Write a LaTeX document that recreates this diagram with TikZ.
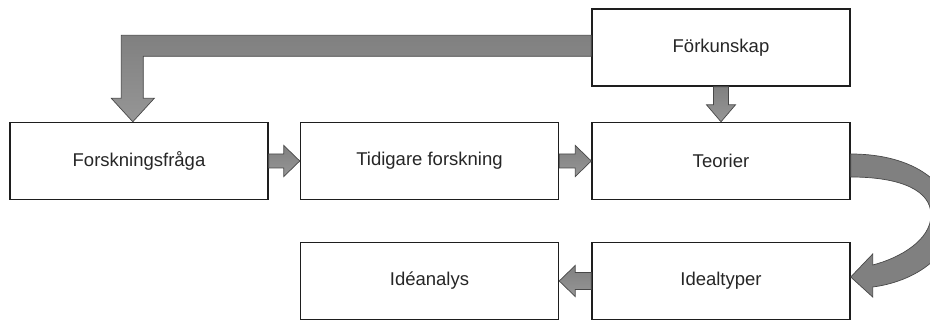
\documentclass[tikz,border=0pt]{standalone}
\usepackage{fontspec}
\setmainfont{Liberation Sans}
\usetikzlibrary{calc}
\definecolor{arrowgray}{RGB}{128,128,128}
\definecolor{arrowlight}{RGB}{150,150,150}
\definecolor{edgegray}{RGB}{72,72,72}
\definecolor{boxline}{RGB}{30,30,30}
\definecolor{txt}{RGB}{38,38,38}
\tikzset{
  box/.style={draw=boxline, line width=1.4pt, fill=white, minimum width=258pt,
    minimum height=77pt, inner sep=0pt, text=txt, font=\fontsize{18.5}{22}\selectfont},
  blockarrow/.style={draw=edgegray, line width=0.7pt, line join=miter,
    top color=arrowgray, bottom color=arrowlight},
  flatarrow/.style={draw=edgegray, line width=0.7pt, line join=miter, fill=arrowgray},
}
\newcommand{\blockright}[2]{%
  \path[blockarrow] ($(#1)+(0,7)$) -- ($(#2)+(-16,7)$) -- ($(#2)+(-16,15.5)$) -- (#2)
    -- ($(#2)+(-16,-15.5)$) -- ($(#2)+(-16,-7)$) -- ($(#1)+(0,-7)$) -- cycle;}
\newcommand{\blockleft}[2]{%
  \path[blockarrow] ($(#1)+(0,8.5)$) -- ($(#2)+(16,8.5)$) -- ($(#2)+(16,15.5)$) -- (#2)
    -- ($(#2)+(16,-15.5)$) -- ($(#2)+(16,-8.5)$) -- ($(#1)+(0,-8.5)$) -- cycle;}
\begin{document}
\begin{tikzpicture}[x=1pt,y=1pt]
\useasboundingbox (0,0) rectangle (930,-320);
\clip (0,0) rectangle (930,-320);
\fill[white] (0,0) rectangle (930,-320);

\node[box] (fk) at (721,-47.5) {Förkunskap};
\node[box] (ff) at (139,-161) {Forskningsfråga};
\node[box] (tf) at (429.5,-161) {Tidigare forskning};
\node[box] (te) at (721,-161) {Teorier};
\node[box] (it) at (721,-281) {Idealtyper};
\node[box] (ia) at (429.5,-281) {Idéanalys};

% L-shaped arrow from Förkunskap to Forskningsfråga
\coordinate (Lt) at ($(ff.north west |- fk.north west)+(112,-27)$);
\path[blockarrow] ($(fk.north west)+(0,-27)$) -- (Lt) -- ($(Lt)+(0,-63)$)
  -- ($(Lt)+(-10,-63)$) -- ($(ff.north west)+(123.5,0)$) -- ($(Lt)+(33,-63)$)
  -- ($(Lt)+(22,-63)$) -- ($(Lt)+(22,-21)$) -- ($(fk.north west)+(0,-48)$) -- cycle;

% Förkunskap -> Teorier
\path[blockarrow] ($(fk.south)+(-7.5,0)$) -- ($(te.north)+(-7.5,17)$) -- ($(te.north)+(-14.5,17)$)
  -- (te.north) -- ($(te.north)+(14.5,17)$) -- ($(te.north)+(7.5,17)$) -- ($(fk.south)+(7.5,0)$) -- cycle;

% horizontal arrows
\blockright{ff.east}{tf.west}
\blockright{tf.east}{te.west}
\blockleft{it.west}{ia.east}

% curved arrow Teorier -> Idealtyper
\coordinate (tip) at ($(it.east)+(0,4)$);
\coordinate (o1) at ($(te.east)+(0,7)$);
\coordinate (i1) at ($(te.east)+(0,-16)$);
\path[flatarrow] (o1) .. controls ($(o1)+(65,0)$) and (952,-185) .. (952,-220)
  .. controls (952,-258) and (912,-282) .. ($(tip)+(22,-10)$)
  -- ($(tip)+(22,-20)$) -- (tip) -- ($(tip)+(22,23)$) -- ($(tip)+(22,12)$)
  .. controls (900,-258) and (931,-240) .. (931,-215)
  .. controls (931,-190) and (900,-177) .. (i1) -- cycle;
\end{tikzpicture}
\end{document}
